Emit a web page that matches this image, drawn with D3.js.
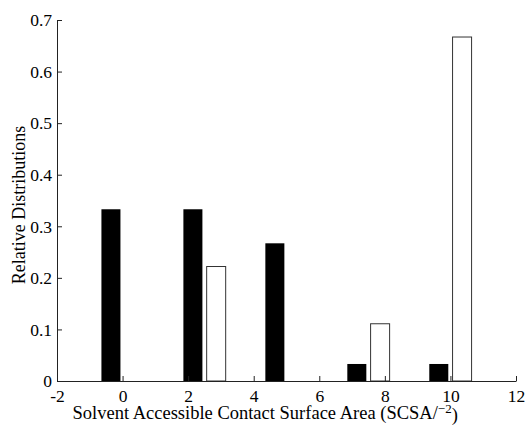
<!DOCTYPE html>
<html>
<head>
<meta charset="utf-8">
<script src="https://cdn.jsdelivr.net/npm/d3@7"></script>
</head>
<body style="margin:0">
<svg id="chart" width="525" height="429" font-family="Liberation Serif"></svg>
<script>
// bin centres and the two series
var bins = [0, 2.5, 5, 7.5, 10],
    blackVals = [0.333, 0.333, 0.267, 0.033, 0.033],
    whiteVals = [0, 0.222, 0, 0.111, 0.667],
    xTicks = [-2, 0, 2, 4, 6, 8, 10, 12],
    yTicks = [0, 0.1, 0.2, 0.3, 0.4, 0.5, 0.6, 0.7];

var svg = d3.select("#chart"),
    margin = {left: 57, right: 9, top: 20, bottom: 48},
    width = 525 - margin.left - margin.right,
    height = 429 - margin.top - margin.bottom;

var x = d3.scaleLinear().domain([-2, 12]).range([0, width]),
    y = d3.scaleLinear().domain([0, 0.7]).range([height, 0]);

var g = svg.append("g").attr("transform", "translate(" + margin.left + "," + margin.top + ")");

var offset = 0.355, barW = 0.58;

// black bars
g.selectAll(".black").data(bins).enter().append("rect")
    .attr("class", "black")
    .attr("x", function(d) { return x(d - offset - barW / 2); })
    .attr("width", x(barW) - x(0))
    .attr("y", function(d, i) { return y(blackVals[i]); })
    .attr("height", function(d, i) { return y(0) - y(blackVals[i]); })
    .attr("fill", "#000");

// white bars
g.selectAll(".white").data(bins.filter(function(d, i) { return whiteVals[i] > 0; }))
  .enter().append("rect")
    .attr("class", "white")
    .attr("x", function(d) { return x(d + offset - barW / 2); })
    .attr("width", x(barW) - x(0))
    .attr("y", function(d) { return y(whiteVals[bins.indexOf(d)]); })
    .attr("height", function(d) { return y(0) - y(whiteVals[bins.indexOf(d)]); })
    .attr("fill", "#fff")
    .attr("stroke", "#333")
    .attr("stroke-width", 1);

// axes, ticks inward
var xAxis = g.append("g").attr("transform", "translate(0," + height + ")")
    .call(d3.axisBottom(x).tickValues(xTicks).tickSizeInner(-5).tickSizeOuter(0)
      .tickFormat(function(d) { return String(d); }));
var yAxis = g.append("g")
    .call(d3.axisLeft(y).tickValues(yTicks).tickSizeInner(-5).tickSizeOuter(0).tickPadding(5)
      .tickFormat(function(d) { return d === 0 ? "0" : d3.format(".1f")(d); }));

[xAxis, yAxis].forEach(function(a) {
  a.attr("font-family", null).attr("font-size", 17.5);
  a.select(".domain").attr("stroke", "#222");
  a.selectAll(".tick line").attr("stroke", "#222");
  a.selectAll(".tick text").attr("fill", "#000");
});
xAxis.selectAll(".tick text").attr("y", 20.5).attr("dy", null);
yAxis.selectAll(".tick text").attr("dy", "0.33em");

// labels
svg.append("text")
    .attr("transform", "translate(25,205) rotate(-90)")
    .attr("text-anchor", "middle")
    .attr("font-size", 18)
    .text("Relative Distributions");

var xl = svg.append("text")
    .attr("x", 72.5)
    .attr("y", 419)
    .attr("font-size", 18.5);
xl.append("tspan").text("Solvent Accessible Contact Surface Area (SCSA/");
xl.append("tspan").attr("dy", "-0.45em").attr("font-size", 13).text("\u22122");
xl.append("tspan").attr("dy", "0.45em").text(")");
</script>
</body>
</html>
